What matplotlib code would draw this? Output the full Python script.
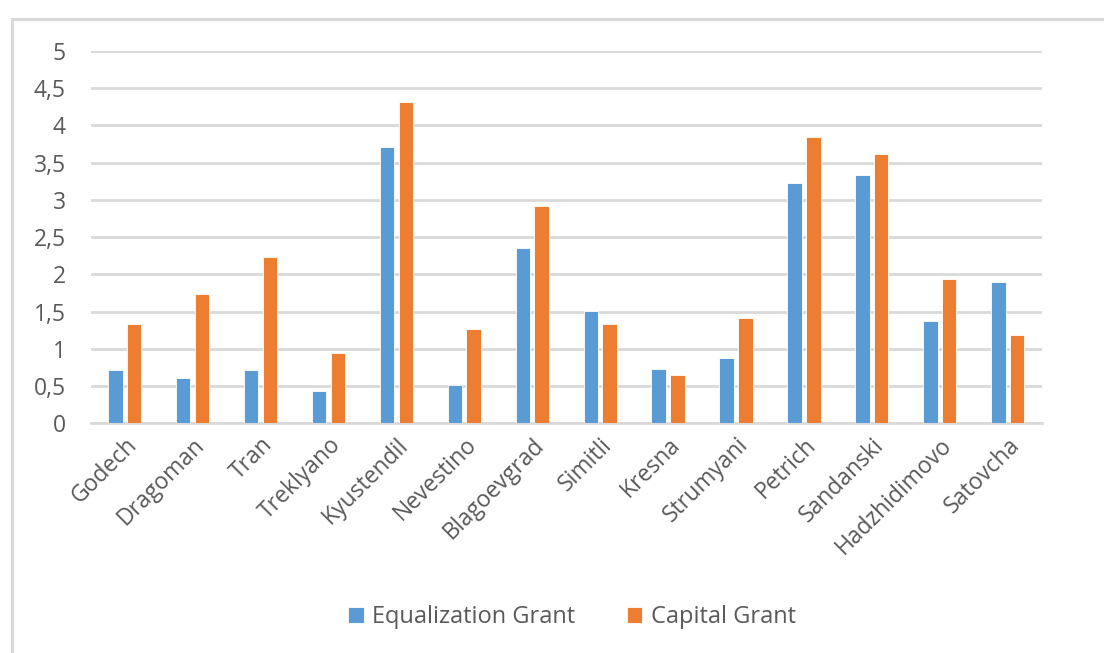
import matplotlib
matplotlib.use("Agg")
import matplotlib.pyplot as plt
from matplotlib.lines import Line2D
import numpy as np

categories = ["Godech", "Dragoman", "Tran", "Treklyano", "Kyustendil", "Nevestino",
              "Blagoevgrad", "Simitli", "Kresna", "Strumyani", "Petrich", "Sandanski",
              "Hadzhidimovo", "Satovcha"]
equalization = [0.71, 0.61, 0.71, 0.44, 3.71, 0.52, 2.35, 1.51, 0.73, 0.88, 3.23, 3.34, 1.37, 1.90]
capital = [1.34, 1.73, 2.23, 0.94, 4.32, 1.27, 2.92, 1.34, 0.65, 1.42, 3.84, 3.61, 1.94, 1.19]
yticks = [0, 0.5, 1, 1.5, 2, 2.5, 3, 3.5, 4, 4.5, 5]
ytick_labels = ["0", "0,5", "1", "1,5", "2", "2,5", "3", "3,5", "4", "4,5", "5"]

plt.rcParams['font.family'] = ['Open Sans', 'DejaVu Sans']
txt = '#595959'
grid = '#d9d9d9'

fig = plt.figure(figsize=(11.04, 6.53), dpi=100)
ax = fig.add_axes([90.7/1104, 1-423.3/653, (1041.7-90.7)/1104, (423.3-51)/653])

x = np.arange(len(categories))
w = 0.213
b1 = ax.bar(x - 0.138, equalization, w, color='#5B9BD5', edgecolor='white', linewidth=0.6,
            label='Equalization Grant', zorder=3)
b2 = ax.bar(x + 0.138, capital, w, color='#ED7D31', edgecolor='white', linewidth=0.6,
            label='Capital Grant', zorder=3)

ax.set_xlim(-0.5, len(categories) - 0.5)
ax.set_ylim(0, 5)
ax.set_yticks(yticks)
ax.set_yticklabels(ytick_labels)
ax.set_xticks(x)
ax.set_xticklabels(categories, rotation=45, ha='right', rotation_mode='anchor')
ax.tick_params(axis='both', length=0, colors=txt, labelsize=16.5)
ax.tick_params(axis='y', pad=18)
ax.tick_params(axis='x', pad=7)
ax.yaxis.grid(True, color=grid, linewidth=2.0, zorder=0)
ax.set_axisbelow(True)
for s in ['top', 'right', 'left']:
    ax.spines[s].set_visible(False)
ax.spines['bottom'].set_color(grid)
ax.spines['bottom'].set_linewidth(2.0)

leg = fig.legend(handles=[b1, b2], loc='center', bbox_to_anchor=(572/1104, 1-617/653),
                 ncol=2, frameon=False, fontsize=17, handlelength=0.65, handleheight=0.65,
                 columnspacing=2.2, handletextpad=0.35, labelcolor=txt)

# outer chart border (partially visible)
fig.add_artist(Line2D([11.5/1104, 11.5/1104], [0, 1-18.5/653], transform=fig.transFigure,
                      color=grid, linewidth=2.2))
fig.add_artist(Line2D([11.5/1104, 1], [1-18.5/653, 1-18.5/653], transform=fig.transFigure,
                      color=grid, linewidth=2.2))

fig.savefig('out.png', dpi=100, facecolor='white')
